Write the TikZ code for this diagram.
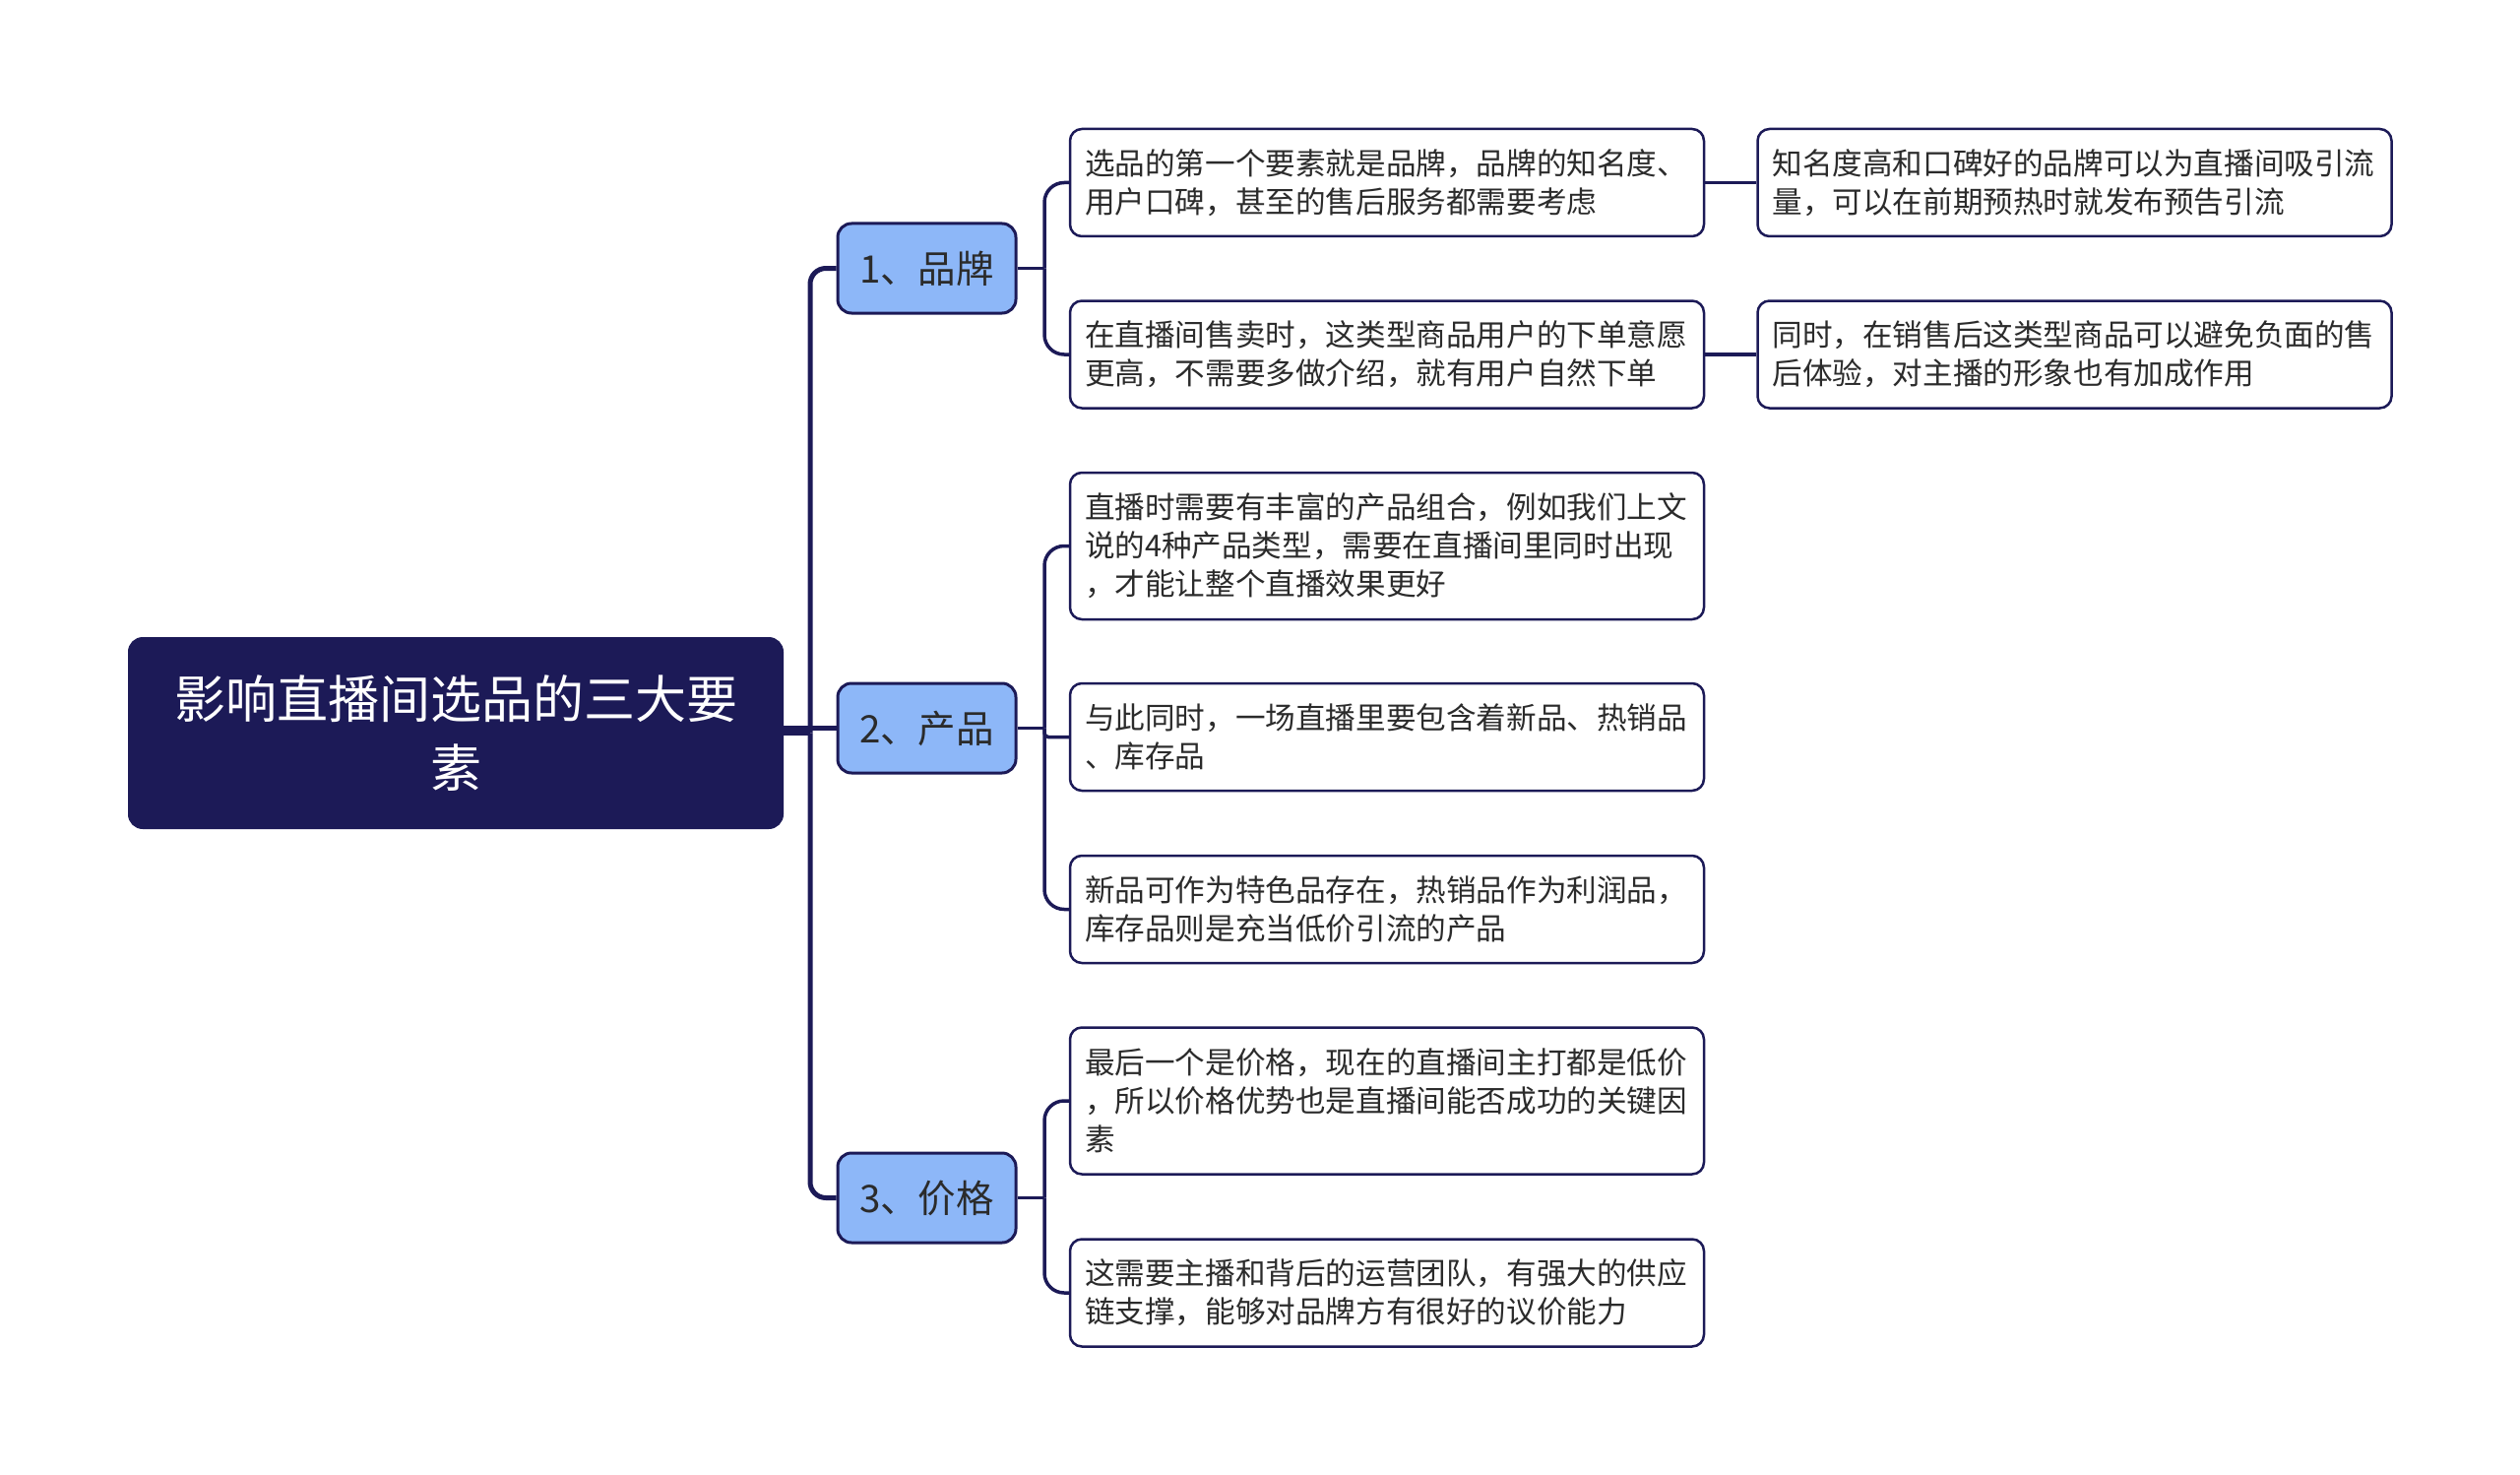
\documentclass[tikz,border=0pt]{standalone}
\usepackage{fontspec}
\setmainfont{Noto Sans CJK SC}
\definecolor{navy}{HTML}{1C1A57}
\definecolor{lblue}{HTML}{8DB7F8}
\definecolor{txt}{HTML}{2B2B2B}
\begin{document}
\begin{tikzpicture}[x=1pt,y=-1pt,
 rootbox/.style={draw=navy, fill=navy, line width=2pt, rounded corners=14pt, minimum width=664pt, minimum height=193pt, text=white, align=center, font=\fontsize{52pt}{70pt}\selectfont, inner sep=0pt},
 catbox/.style={draw=navy, fill=lblue, line width=3pt, rounded corners=14pt, minimum width=181pt, minimum height=91pt, text=txt, font=\fontsize{38.5pt}{46pt}\selectfont, inner sep=0pt},
 leafbox/.style={draw=navy, fill=white, line width=2.5pt, rounded corners=12pt, text width=614pt, align=left, inner xsep=15pt, inner ysep=0pt, text=txt, font=\fontsize{30.6pt}{39pt}\selectfont},
 two/.style={minimum height=109pt},
 three/.style={minimum height=149pt},
 link/.style={draw=navy, line width=3.5pt, rounded corners=20pt},
 trunk/.style={draw=navy, line width=5pt, rounded corners=16pt}]
\useasboundingbox (0,0) rectangle (2560,1498);

\node[rootbox] (root) at (463,744.5) {影响直播间选品的三大要\\素};

\node[catbox] (c1) at (941.5,272.5) {1、品牌};
\node[catbox] (c2) at (941.5,739.5) {2、产品};
\node[catbox] (c3) at (941.5,1216.5) {3、价格};

\node[leafbox,two] (b1) at (1409,185.5) {选品的第一个要素就是品牌，品牌的知名度、\\用户口碑，甚至的售后服务都需要考虑};
\node[leafbox,two] (b2) at (1409,360) {在直播间售卖时，这类型商品用户的下单意愿\\更高，不需要多做介绍，就有用户自然下单};
\node[leafbox,three] (p1) at (1409,554.5) {直播时需要有丰富的产品组合，例如我们上文\\说的4种产品类型，需要在直播间里同时出现\\，才能让整个直播效果更好};
\node[leafbox,two] (p2) at (1409,748.5) {与此同时，一场直播里要包含着新品、热销品\\、库存品};
\node[leafbox,two] (p3) at (1409,923.5) {新品可作为特色品存在，热销品作为利润品，\\库存品则是充当低价引流的产品};
\node[leafbox,three] (q1) at (1409,1118) {最后一个是价格，现在的直播间主打都是低价\\，所以价格优势也是直播间能否成功的关键因\\素};
\node[leafbox,two] (q2) at (1409,1313) {这需要主播和背后的运营团队，有强大的供应\\链支撑，能够对品牌方有很好的议价能力};

\node[leafbox,two] (b1a) at (2107.5,185.5) {知名度高和口碑好的品牌可以为直播间吸引流\\量，可以在前期预热时就发布预告引流};
\node[leafbox,two] (b2a) at (2107.5,360) {同时，在销售后这类型商品可以避免负面的售\\后体验，对主播的形象也有加成作用};

% trunk
\coordinate (tj) at (823,744.5);
\draw[trunk] (root.east) -- (tj);
\draw[trunk] (tj) |- (c1.west);
\draw[trunk] (tj) |- (c3.west);
\draw[trunk] (root.east |- c2.west) -- (c2.west);

% brand
\coordinate (j1) at (1061,272.5);
\draw[link] (c1.east) -- (j1);
\draw[link] (j1) |- (b1.west);
\draw[link] (j1) |- (b2.west);
% product
\coordinate (j2) at (1061,739.5);
\draw[link] (c2.east) -- (j2);
\draw[link] (j2) |- (p1.west);
\draw[link] (j2) |- (p3.west);
\draw[link,rounded corners=4pt] (j2) |- (p2.west);
% price
\coordinate (j3) at (1061,1216.5);
\draw[link] (c3.east) -- (j3);
\draw[link] (j3) |- (q1.west);
\draw[link] (j3) |- (q2.west);

% level 3
\draw[link] (b1.east) -- (b1a.west);
\draw[link] (b2.east) -- (b2a.west);
\end{tikzpicture}
\end{document}
